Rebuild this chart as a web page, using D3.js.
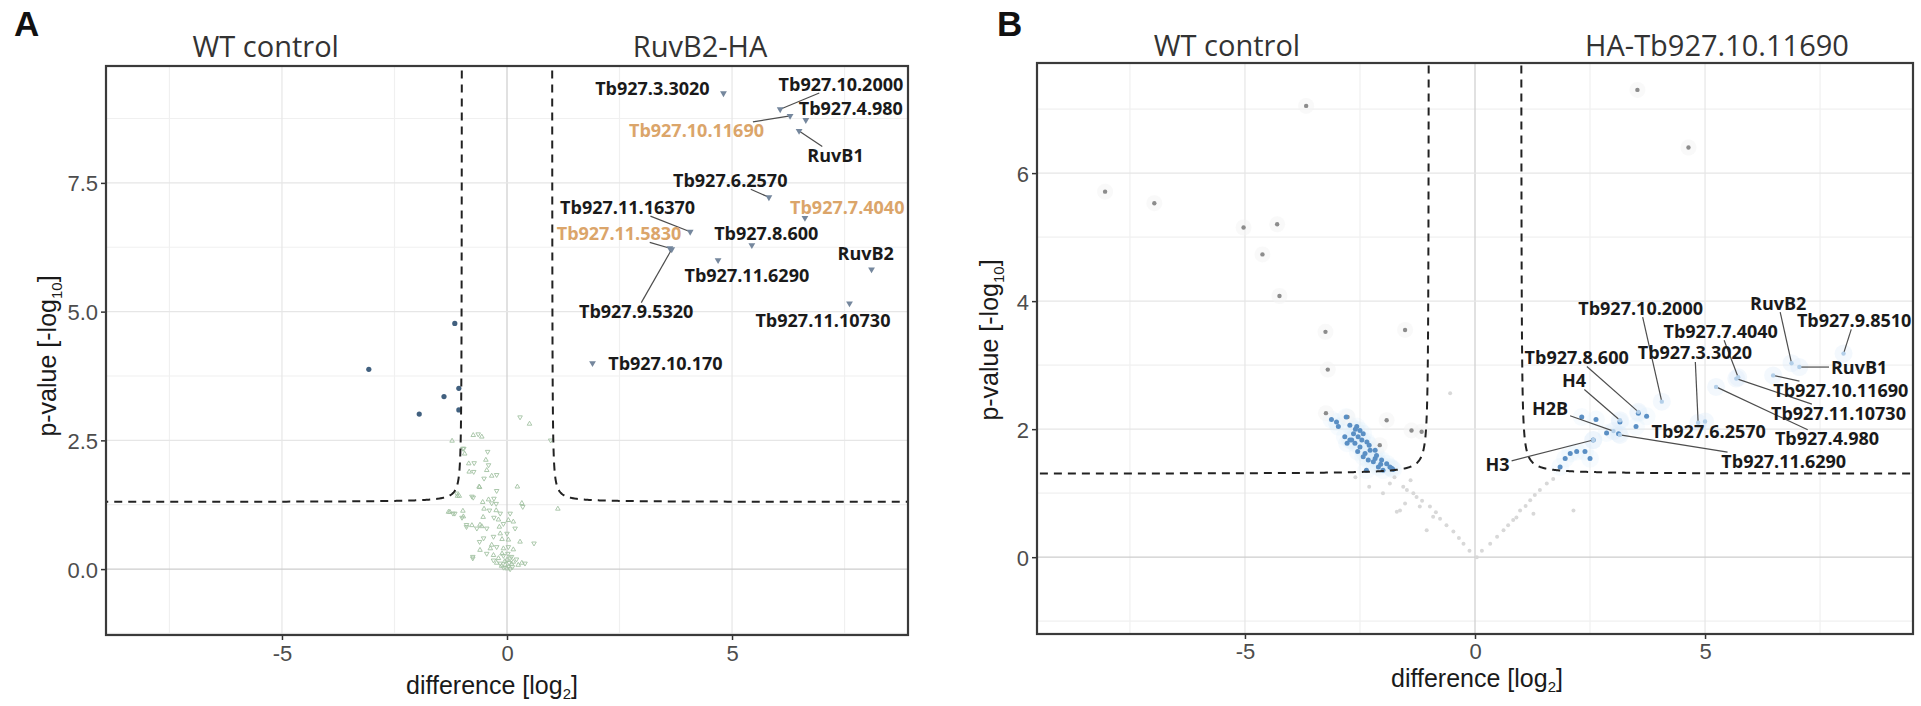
<!DOCTYPE html>
<html>
<head>
<meta charset="utf-8">
<script src="https://cdn.jsdelivr.net/npm/d3@7"></script>
<style>
  body { margin: 0; background: #fff; }
  svg { display: block; }
</style>
</head>
<body>
<div id="chart"></div>
<script>
// Volcano plots: A = RuvB2-HA pulldown, B = HA-Tb927.10.11690 pulldown

var svgWidth = 1921;
var svgHeight = 706;

// ---------------- Panel A data ----------------
var aTitles = ["WT control", "RuvB2-HA"];
var aXTicks = [-5, 0, 5];
var aYTicks = [0, 2.5, 5, 7.5];

// non-significant proteins (green)
var aNonSig = [
  [-0.75,2.6],[-0.64,2.62],[-0.56,2.57],[-0.96,2.34],[-0.94,2.24],[-0.43,2.28],[-0.47,2.12],[-0.73,2.06],
  [-0.84,1.89],[-0.41,2.02],[-0.45,1.92],[-0.51,1.76],[-0.34,1.81],[-0.23,1.83],[-0.61,1.59],[-0.23,1.52],
  [0.23,1.6],[-1.12,1.47],[-1.06,1.42],[-0.75,1.39],[-0.41,1.35],[-0.29,1.37],[-0.54,1.3],[-0.34,1.28],
  [0.33,1.28],[0.35,1.21],[-1.27,1.11],[-1.16,1.08],[-0.98,1.13],[-1.0,1.0],[-0.51,1.17],[-0.39,1.14],
  [-0.24,1.14],[-0.15,1.08],[-0.53,1.01],[-0.29,1.0],[-0.19,0.96],[-0.9,0.82],[-0.78,0.85],[-0.67,0.79],
  [-0.56,0.83],[-0.45,0.79],[-0.17,0.82],[-0.08,0.88],[0.14,0.92],[0.18,0.79],[-0.15,0.69],[-0.3,0.63],
  [-0.11,0.58],[-0.61,0.53],[0.29,0.53],[0.6,0.5],[-0.34,0.47],[-0.23,0.43],[-0.08,0.4],[0.03,0.43],
  [0.14,0.38],[-0.45,0.3],[-0.3,0.27],[-0.76,0.24],[-0.19,0.21],[-0.08,0.26],[0.0,0.18],[0.07,0.21],
  [0.14,0.14],[0.21,0.19],[0.33,0.12],[-0.15,0.11],[-0.04,0.08],[0.03,0.05],[0.1,0.1],[-0.08,0.03],
  [0.0,0.01],[0.07,0.0],[-0.23,0.12],[-0.3,0.17],[0.25,0.08],[0.4,0.11],[-0.37,0.4],[-0.52,0.6],
  [0.03,0.57],[0.0,0.69],[0.03,0.95],[0.07,1.08],[-0.6,0.37],[0.1,0.24],[-0.11,0.3],[-0.24,1.27],
  [-1.3,1.11],[-1.2,1.08],[-0.97,1.02],[-0.9,0.86],[-0.6,0.86],[-0.76,0.21],[-1.22,2.49],[-0.98,2.34],
  [-0.85,2.05],[-0.74,1.89],[-1.1,1.42],[-0.78,1.41],[-0.62,1.6],[0.29,2.95],[0.5,2.82],[0.97,2.5],
  [1.13,1.17],[0.02,0.3],[-0.05,0.15],[0.05,0.12],[-0.12,0.06],[0.12,0.04]
];

// significant on the control side (dark blue)
var aSigLeft = [[-3.07,3.88],[-1.16,4.77],[-1.4,3.35],[-1.95,3.01],[-1.07,3.51],[-1.07,3.09]];

// labelled enriched proteins: point (x,y) and label centre (lx,ly)
var aLabels = [
  {n:"Tb927.3.3020",   x:4.81, y:9.24, lx:3.23, ly:9.34},
  {n:"Tb927.10.2000",  x:6.07, y:8.93, lx:7.42, ly:9.42},
  {n:"Tb927.4.980",    x:6.64, y:8.72, lx:7.64, ly:8.95},
  {n:"Tb927.10.11690", x:6.29, y:8.80, lx:4.21, ly:8.51},
  {n:"RuvB1",          x:6.49, y:8.51, lx:7.30, ly:8.03},
  {n:"Tb927.6.2570",   x:5.82, y:7.22, lx:4.96, ly:7.55},
  {n:"Tb927.7.4040",   x:6.62, y:6.82, lx:7.56, ly:7.03},
  {n:"Tb927.11.16370", x:4.07, y:6.55, lx:2.68, ly:7.03},
  {n:"Tb927.11.5830",  x:3.62, y:6.23, lx:2.49, ly:6.52},
  {n:"Tb927.8.600",    x:5.44, y:6.29, lx:5.76, ly:6.52},
  {n:"RuvB2",          x:8.10, y:5.82, lx:7.97, ly:6.12},
  {n:"Tb927.11.6290",  x:4.69, y:6.00, lx:5.33, ly:5.71},
  {n:"Tb927.9.5320",   x:3.66, y:6.21, lx:2.87, ly:5.00},
  {n:"Tb927.11.10730", x:7.61, y:5.16, lx:7.02, ly:4.83},
  {n:"Tb927.10.170",   x:1.90, y:4.00, lx:3.52, ly:4.00}
];
var aOrange = ["Tb927.10.11690", "Tb927.7.4040", "Tb927.11.5830"];

// ---------------- Panel B data ----------------
var bTitles = ["WT control", "HA-Tb927.10.11690"];
var bXTicks = [-5, 0, 5];
var bYTicks = [0, 2, 4, 6];

var bNonSig = [
  [0.04,0.0],[-0.25,0.21],[-0.47,0.4],[-0.76,0.6],[-0.98,0.79],[-1.27,0.94],[-1.48,1.05],[0.33,0.21],
  [0.62,0.42],[0.83,0.58],[0.98,0.73],[1.2,0.89],[1.41,1.05],[1.56,1.15],[-0.54,2.56],[2.14,0.73],
  [1.27,0.68],[-1.85,1.15],[-1.52,0.84],[-1.63,0.73],[-2.0,1.0],[-1.7,0.71],[-1.56,1.1],[-1.34,1.0],
  [-1.2,0.79],[-1.05,0.42],[-0.91,0.63],[-0.12,0.1],[0.15,0.1],[-0.35,0.3],[0.48,0.32],[-0.62,0.5],
  [0.72,0.5],[1.1,0.8],[-1.15,0.88],[1.3,0.97],[-1.4,1.2],[1.7,1.22],[-1.75,1.25],[0.9,0.62],
  [-0.85,0.7],[-2.3,1.1],[-2.6,1.25]
];

var bGraySig = [
  [-8.04,5.71],[-6.97,5.53],[-5.03,5.15],[-4.3,5.2],[-4.62,4.73],[-4.25,4.08],[-3.67,7.05],[-3.25,3.52],
  [-1.52,3.55],[3.53,7.3],[4.64,6.4],[-3.2,2.93],[-3.24,2.25],[-2.77,2.19],[-1.92,2.14],[-1.38,1.98],
  [-1.16,1.96],[-2.07,1.75]
];

var bBlueSig = [
  [-3.12,2.15],[-3.01,2.11],[-2.97,2.04],[-2.72,2.06],[-2.57,2.04],[-2.5,1.98],[-2.43,1.93],[-2.83,1.88],
  [-2.72,1.83],[-2.61,1.78],[-2.5,1.72],[-2.35,1.8],[-2.28,1.67],[-2.39,1.62],[-2.14,1.59],[-2.32,1.52],
  [-2.21,1.49],[-2.03,1.52],[-1.92,1.46],[-1.85,1.41],[-2.1,1.41],[-2.0,1.36],[-1.78,1.37],[-2.36,1.36],
  [-2.54,1.88],[-2.46,1.83],[-2.64,1.93],[-2.78,1.78],[-2.43,1.57],[-2.17,1.67],[-2.8,2.19],[-2.68,1.83],
  [-2.17,1.54],[-1.81,1.39],[-2.6,2.0],[-2.3,1.75],[-2.55,1.65],[-2.05,1.45],
  [2.32,2.19],[2.63,2.15],[3.15,2.11],[3.55,2.25],[3.73,2.2],[3.5,2.04],[2.86,1.94],[3.12,1.93],
  [2.57,1.83],[2.07,1.62],[2.21,1.65],[2.39,1.65],[2.5,1.54],[1.96,1.54],[1.85,1.41]
];

var bLabels = [
  {n:"RuvB2",          x:6.88, y:3.03, lx:6.59, ly:3.97},
  {n:"Tb927.9.8510",   x:8.01, y:3.18, lx:8.24, ly:3.70},
  {n:"RuvB1",          x:7.05, y:2.97, lx:8.35, ly:2.97},
  {n:"Tb927.10.11690", x:6.48, y:2.84, lx:7.95, ly:2.61},
  {n:"Tb927.11.10730", x:5.68, y:2.79, lx:7.90, ly:2.25},
  {n:"Tb927.4.980",    x:5.24, y:2.66, lx:7.65, ly:1.85},
  {n:"Tb927.11.6290",  x:3.15, y:1.91, lx:6.71, ly:1.50},
  {n:"Tb927.6.2570",   x:5.00, y:2.12, lx:5.08, ly:1.96},
  {n:"Tb927.3.3020",   x:4.85, y:2.10, lx:4.78, ly:3.19},
  {n:"Tb927.7.4040",   x:5.72, y:2.81, lx:5.34, ly:3.53},
  {n:"Tb927.10.2000",  x:4.06, y:2.43, lx:3.60, ly:3.89},
  {n:"Tb927.8.600",    x:3.55, y:2.27, lx:2.21, ly:3.12},
  {n:"H4",             x:3.15, y:2.14, lx:2.15, ly:2.76},
  {n:"H2B",            x:3.01, y:1.97, lx:1.63, ly:2.32},
  {n:"H3",             x:2.57, y:1.83, lx:0.49, ly:1.45}
];

// significance threshold curve: y = y0 + c / (|x| - x0)
var aCurve = {x0: 1.0, y0: 1.301, c: 0.035};
var bCurve = {x0: 1.0, y0: 1.301, c: 0.045};

// ---------------- drawing ----------------
var svg = d3.select("#chart")
  .append("svg")
  .attr("width", svgWidth)
  .attr("height", svgHeight);

function makePanel(opt) {
  var x = d3.scaleLinear().domain(opt.xDomain).range([opt.left, opt.right]);
  var y = d3.scaleLinear().domain(opt.yDomain).range([opt.bottom, opt.top]);
  var g = svg.append("g");

  g.append("clipPath").attr("id", opt.id + "clip")
    .append("rect")
    .attr("x", opt.left).attr("y", opt.top)
    .attr("width", opt.right - opt.left).attr("height", opt.bottom - opt.top);

  // grid
  var grid = g.append("g");
  grid.selectAll(".vminor").data(opt.xMinor).enter().append("line")
    .attr("x1", d => x(d)).attr("x2", d => x(d))
    .attr("y1", opt.top).attr("y2", opt.bottom)
    .attr("stroke", "#f0f0f0").attr("stroke-width", 1.2);
  grid.selectAll(".hminor").data(opt.yMinor).enter().append("line")
    .attr("y1", d => y(d)).attr("y2", d => y(d))
    .attr("x1", opt.left).attr("x2", opt.right)
    .attr("stroke", "#f0f0f0").attr("stroke-width", 1.2);
  grid.selectAll(".vmajor").data(opt.xTicks).enter().append("line")
    .attr("x1", d => x(d)).attr("x2", d => x(d))
    .attr("y1", opt.top).attr("y2", opt.bottom)
    .attr("stroke", d => d === 0 ? "#cdcdcd" : "#e6e6e6").attr("stroke-width", 1.2);
  grid.selectAll(".hmajor").data(opt.yTicks).enter().append("line")
    .attr("y1", d => y(d)).attr("y2", d => y(d))
    .attr("x1", opt.left).attr("x2", opt.right)
    .attr("stroke", d => d === 0 ? "#cdcdcd" : "#e6e6e6").attr("stroke-width", 1.2);

  // axes
  var xAxis = g.append("g")
    .attr("transform", `translate(0, ${opt.bottom})`)
    .call(d3.axisBottom(x).tickValues(opt.xTicks).tickSize(5).tickPadding(opt.xPad).tickFormat(d3.format("d")));
  var yAxis = g.append("g")
    .attr("transform", `translate(${opt.left}, 0)`)
    .call(d3.axisLeft(y).tickValues(opt.yTicks).tickSize(5).tickPadding(3).tickFormat(d3.format(opt.yFormat)));
  [xAxis, yAxis].forEach(function(a) {
    a.select(".domain").remove();
    a.selectAll("line").attr("stroke", "#333").attr("stroke-width", 1.5);
    a.selectAll("text")
      .attr("fill", "#4d4d4d")
      .style("font-family", "'Liberation Sans', Arial, sans-serif")
      .style("font-size", "22px");
  });
  xAxis.selectAll("text").text(d => d < 0 ? "-" + Math.abs(d) : d);
  yAxis.selectAll("text").attr("dy", "0.36em");

  return {x: x, y: y, g: g};
}

function drawThreshold(p, opt, curve) {
  var plot = p.g.append("g").attr("clip-path", `url(#${opt.id}clip)`);
  var line = d3.line().x(d => p.x(d[0])).y(d => p.y(d[1]));
  [-1, 1].forEach(function(side) {
    var pts = [];
    var edge = Math.abs(opt.xDomain[1]);
    for (var i = 0; i <= 400; i++) {
      var off = 0.0015 * Math.pow((edge - curve.x0) / 0.0015, i / 400);
      var ax = curve.x0 + off;
      pts.push([side * ax, curve.y0 + curve.c / off]);
    }
    plot.append("path")
      .attr("d", line(pts))
      .attr("fill", "none")
      .attr("stroke", "#222")
      .attr("stroke-width", 2)
      .attr("stroke-dasharray", "8,6");
  });
}

// labels with repel-style connector segments (only when the point is far from its label)
function drawLabels(p, opt, labels, orange, pointStyle) {
  var plot = p.g.append("g").attr("clip-path", `url(#${opt.id}clip)`);
  var segs = plot.append("g");
  var pts = plot.append("g");
  var txt = plot.append("g");
  var fs = 18;
  labels.forEach(function(d) {
    var px = p.x(d.x), py = p.y(d.y), lx = p.x(d.lx), ly = p.y(d.ly);
    pointStyle(pts, px, py);
    var t = txt.append("text")
      .attr("x", lx).attr("y", ly).attr("dy", "0.36em")
      .attr("text-anchor", "middle")
      .style("font-family", "'Open Sans', 'Noto Sans', sans-serif")
      .style("font-weight", 700)
      .style("font-size", fs + "px")
      .attr("fill", orange.indexOf(d.n) >= 0 ? "#dba56a" : "#1a1a1a")
      .text(d.n);
    var w = t.node().getComputedTextLength();
    var hw = w / 2 + 2, hh = fs * 0.5;
    var dx = px - lx, dy = py - ly;
    var tt = Math.min(dx === 0 ? Infinity : hw / Math.abs(dx), dy === 0 ? Infinity : hh / Math.abs(dy));
    var len = (1 - tt) * Math.sqrt(dx * dx + dy * dy);
    if (tt < 1 && len > 16) {
      segs.append("line")
        .attr("x1", lx + dx * tt).attr("y1", ly + dy * tt)
        .attr("x2", px).attr("y2", py)
        .attr("stroke", "#4d4d4d").attr("stroke-width", 1.2);
    }
  });
}

function drawFrameAndTitles(p, opt, titles, titleX) {
  p.g.append("rect")
    .attr("x", opt.left).attr("y", opt.top)
    .attr("width", opt.right - opt.left).attr("height", opt.bottom - opt.top)
    .attr("fill", "none").attr("stroke", "#3a3a3a").attr("stroke-width", 2.2);

  titles.forEach(function(t, i) {
    p.g.append("text")
      .attr("x", p.x(titleX[i])).attr("y", opt.titleY)
      .attr("text-anchor", "middle")
      .style("font-family", "'Open Sans', 'Noto Sans', sans-serif")
      .style("font-size", "29px")
      .attr("fill", "#333")
      .text(t);
  });

  // axis titles
  var xt = p.g.append("text")
    .attr("x", opt.xTitleX).attr("y", opt.xTitleY)
    .attr("text-anchor", "middle")
    .style("font-family", "'Liberation Sans', Arial, sans-serif")
    .style("font-size", "25px")
    .attr("fill", "#1a1a1a");
  xt.append("tspan").text("difference [log");
  xt.append("tspan").attr("dy", 5).style("font-size", "15px").text("2");
  xt.append("tspan").attr("dy", -5).text("]");

  var yt = p.g.append("text")
    .attr("transform", `translate(${opt.yTitleX}, ${opt.yTitleY}) rotate(-90)`)
    .attr("text-anchor", "middle")
    .style("font-family", "'Liberation Sans', Arial, sans-serif")
    .style("font-size", "25px")
    .attr("fill", "#1a1a1a");
  yt.append("tspan").text("p-value [-log");
  yt.append("tspan").attr("dy", 6).style("font-size", "15px").text("10");
  yt.append("tspan").attr("dy", -6).text("]");

  svg.append("text")
    .attr("x", opt.letterX).attr("y", 36)
    .style("font-family", "'Liberation Sans', Arial, sans-serif")
    .style("font-weight", 700)
    .style("font-size", "35px")
    .attr("fill", "#111")
    .text(opt.letter);
}

// ---------- Panel A ----------
var optA = {
  id: "A", letter: "A", letterX: 14,
  left: 106, right: 908, top: 66, bottom: 635,
  xDomain: [-8.91, 8.91], yDomain: [-1.28, 9.77],
  xTicks: aXTicks, yTicks: aYTicks,
  xMinor: [-7.5, -2.5, 2.5, 7.5], yMinor: [-1.25, 1.25, 3.75, 6.25, 8.75],
  yFormat: ".1f", titleY: 57, xPad: 5,
  xTitleX: 492, xTitleY: 694, yTitleX: 56, yTitleY: 356
};
var pA = makePanel(optA);
var plotA = pA.g.append("g").attr("clip-path", "url(#Aclip)");
var tri = d3.symbol().type(d3.symbolTriangle);

plotA.selectAll(".ns").data(aNonSig).enter().append("path")
  .attr("d", tri.size(9)())
  .attr("transform", (d, i) => `translate(${pA.x(d[0])}, ${pA.y(d[1])}) rotate(${i % 2 ? 180 : 0})`)
  .attr("fill", "none")
  .attr("stroke", "#a3c2a3")
  .attr("stroke-width", 0.9);

plotA.selectAll(".sig").data(aSigLeft).enter().append("circle")
  .attr("cx", d => pA.x(d[0])).attr("cy", d => pA.y(d[1]))
  .attr("r", 2.6)
  .attr("fill", "#41607f");

drawThreshold(pA, optA, aCurve);
drawLabels(pA, optA, aLabels, aOrange, function(g, px, py) {
  g.append("path")
    .attr("d", d3.symbol().type(d3.symbolTriangle).size(20)())
    .attr("transform", `translate(${px}, ${py}) rotate(180)`)
    .attr("fill", "#75879d");
});
drawFrameAndTitles(pA, optA, aTitles, [-5.36, 4.29]);

// ---------- Panel B ----------
var optB = {
  id: "B", letter: "B", letterX: 997,
  left: 1037, right: 1913, top: 63, bottom: 634,
  xDomain: [-9.52, 9.52], yDomain: [-1.2, 7.72],
  xTicks: bXTicks, yTicks: bYTicks,
  xMinor: [-7.5, -2.5, 2.5, 7.5], yMinor: [-1, 1, 3, 5, 7],
  yFormat: "d", titleY: 56, xPad: 4,
  xTitleX: 1477, xTitleY: 687, yTitleX: 998, yTitleY: 340
};
var pB = makePanel(optB);
var plotB = pB.g.append("g").attr("clip-path", "url(#Bclip)");

// soft halos
plotB.selectAll(".halo").data(bBlueSig).enter().append("circle")
  .attr("cx", d => pB.x(d[0])).attr("cy", d => pB.y(d[1]))
  .attr("r", 9).attr("fill", "#dcecf9").attr("opacity", 0.22);
plotB.selectAll(".haloL").data(bLabels).enter().append("circle")
  .attr("cx", d => pB.x(d.x)).attr("cy", d => pB.y(d.y))
  .attr("r", 9).attr("fill", "#dcecf9").attr("opacity", 0.35);
plotB.selectAll(".haloG").data(bGraySig).enter().append("circle")
  .attr("cx", d => pB.x(d[0])).attr("cy", d => pB.y(d[1]))
  .attr("r", 8).attr("fill", "#f3f3f3").attr("opacity", 0.5);

plotB.selectAll(".ns").data(bNonSig).enter().append("circle")
  .attr("cx", d => pB.x(d[0])).attr("cy", d => pB.y(d[1]))
  .attr("r", 2).attr("fill", "#d8d8d8");

plotB.selectAll(".gs").data(bGraySig).enter().append("circle")
  .attr("cx", d => pB.x(d[0])).attr("cy", d => pB.y(d[1]))
  .attr("r", 2.2).attr("fill", "#8c8c8c");

plotB.selectAll(".bs").data(bBlueSig).enter().append("circle")
  .attr("cx", d => pB.x(d[0])).attr("cy", d => pB.y(d[1]))
  .attr("r", 2.5).attr("fill", "#5a8fc4");

drawThreshold(pB, optB, bCurve);
drawLabels(pB, optB, bLabels, [], function(g, px, py) {
  g.append("circle").attr("cx", px).attr("cy", py).attr("r", 2.2).attr("fill", "#b3cfe9");
});
drawFrameAndTitles(pB, optB, bTitles, [-5.39, 5.26]);
</script>
</body>
</html>
